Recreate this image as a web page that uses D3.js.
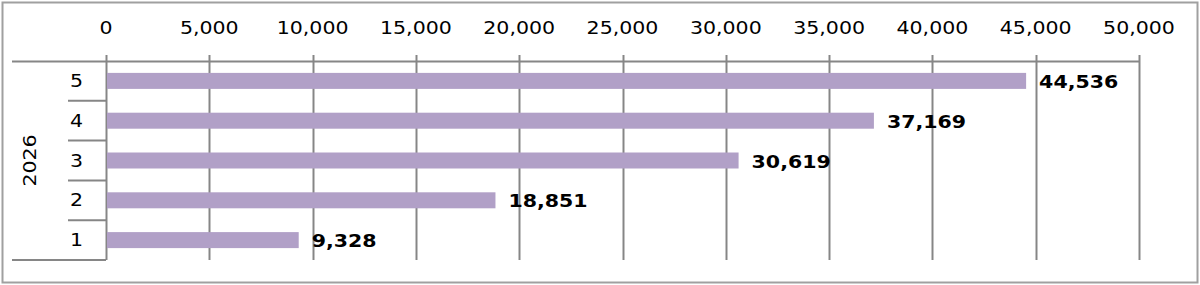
<!DOCTYPE html>
<html>
<head>
<meta charset="utf-8">
<script src="https://cdn.jsdelivr.net/npm/d3@7"></script>
<style>
  body { margin: 0; background: #fff; }
  svg text { font-family: Verdana, "DejaVu Sans", sans-serif; }
</style>
</head>
<body>
<script>
// chart data
let categories = ['5', '4', '3', '2', '1'];
let values = [44536, 37169, 30619, 18851, 9328];
let groupLabel = '2026';
let tickValues = [0, 5000, 10000, 15000, 20000, 25000, 30000, 35000, 40000, 45000, 50000];

let width = 1200, height = 285;
let plot = {left: 106, right: 1139, top: 61, bottom: 260};
let gridColor = '#868686';
let stretch = 1.14; // reference text is a bit wider than DejaVu

const svg = d3.select('body')
  .append('svg')
  .attr('width', width)
  .attr('height', height);

svg.append('rect')
  .attr('x', 2.5).attr('y', 2.5)
  .attr('width', 1195).attr('height', 280)
  .attr('fill', '#fff')
  .attr('stroke', '#a0a0a0')
  .attr('stroke-width', 2);

const x = d3.scaleLinear()
  .domain([0, 50000])
  .range([plot.left, plot.right]);

const y = d3.scaleBand()
  .domain(categories)
  .range([plot.top, plot.bottom]);

// gridlines + tick marks
svg.append('g')
  .selectAll('line')
  .data(tickValues)
  .enter()
  .append('line')
  .attr('x1', d => Math.round(x(d)) + 0.5)
  .attr('x2', d => Math.round(x(d)) + 0.5)
  .attr('y1', plot.top - 6)
  .attr('y2', plot.bottom)
  .attr('stroke', gridColor)
  .attr('stroke-width', 2);

// top axis line (extends over the category labels)
svg.append('line')
  .attr('x1', 12).attr('x2', plot.right)
  .attr('y1', plot.top + 0.5).attr('y2', plot.top + 0.5)
  .attr('stroke', gridColor).attr('stroke-width', 2);

svg.append('line')
  .attr('x1', 12).attr('x2', plot.left)
  .attr('y1', plot.bottom).attr('y2', plot.bottom)
  .attr('stroke', gridColor).attr('stroke-width', 2);

// category separators
svg.append('g')
  .selectAll('line')
  .data(categories.slice(1))
  .enter()
  .append('line')
  .attr('x1', 68).attr('x2', plot.left)
  .attr('y1', d => y(d))
  .attr('y2', d => y(d))
  .attr('stroke', gridColor)
  .attr('stroke-width', 2);

// tick labels
svg.append('g')
  .selectAll('text')
  .data(tickValues)
  .enter()
  .append('text')
  .attr('transform', d => `translate(${x(d)},34) scale(${stretch},1)`)
  .attr('text-anchor', 'middle')
  .attr('font-size', 18)
  .text(d => d3.format(',')(d));

// bars
svg.append('g')
  .selectAll('rect')
  .data(values)
  .enter()
  .append('rect')
  .attr('x', x(0) + 1)
  .attr('y', (d, i) => y(categories[i]) + y.bandwidth() / 2 - 8)
  .attr('width', d => x(d) - x(0) - 1)
  .attr('height', 16)
  .attr('fill', '#b1a0c7');

// value labels
svg.append('g')
  .selectAll('text')
  .data(values)
  .enter()
  .append('text')
  .attr('transform', (d, i) =>
    `translate(${x(d) + 13},${y(categories[i]) + y.bandwidth() / 2 + 7}) scale(${stretch},1)`)
  .attr('font-size', 18)
  .attr('font-weight', 'bold')
  .text(d => d3.format(',')(d));

// category labels
svg.append('g')
  .selectAll('text')
  .data(categories)
  .enter()
  .append('text')
  .attr('transform', d => `translate(83,${y(d) + y.bandwidth() / 2 + 6}) scale(${stretch},1)`)
  .attr('text-anchor', 'end')
  .attr('font-size', 18)
  .text(d => d);

// group label
svg.append('text')
  .attr('transform', `translate(36,${(plot.top + plot.bottom) / 2}) rotate(-90) scale(${stretch},1)`)
  .attr('text-anchor', 'middle')
  .attr('font-size', 18)
  .text(groupLabel);
</script>
</body>
</html>
